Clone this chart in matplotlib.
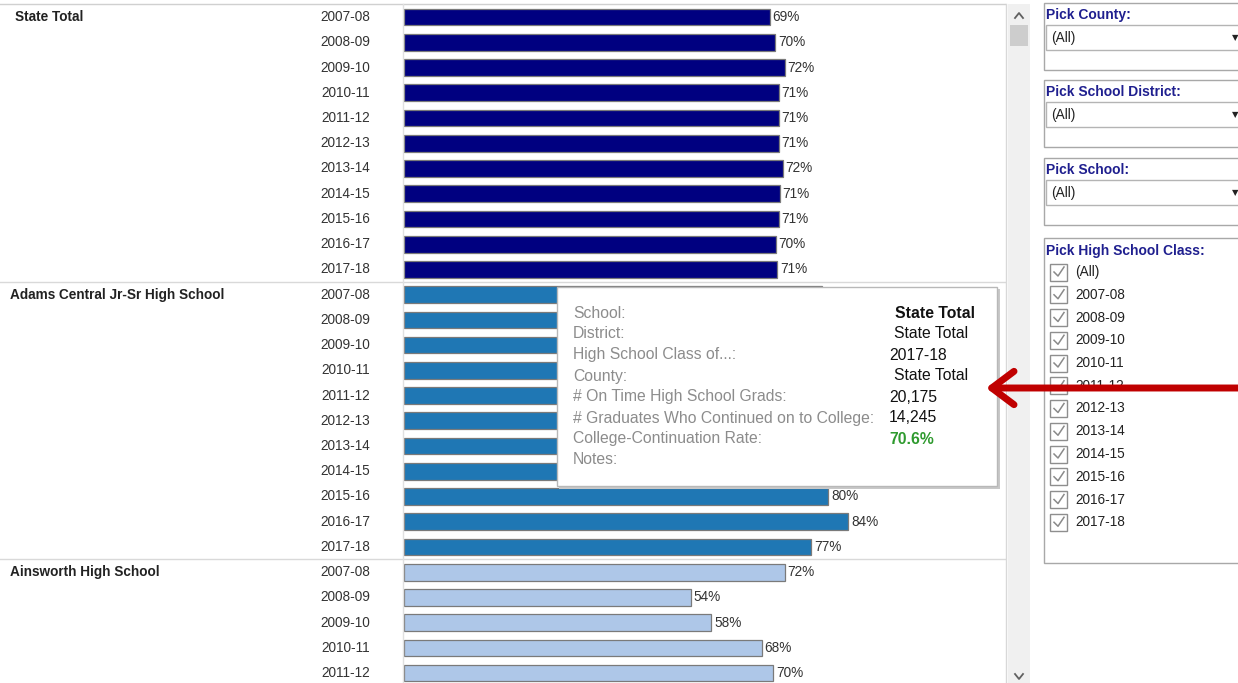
import matplotlib.pyplot as plt
import matplotlib.transforms as mtransforms
from matplotlib.patches import Rectangle


YEARS = ["2007-08", "2008-09", "2009-10", "2010-11", "2011-12", "2012-13",
         "2013-14", "2014-15", "2015-16", "2016-17", "2017-18"]

SCHOOLS = ["State Total", "Adams Central Jr-Sr High School", "Ainsworth High School"]

STATE_RATE = [69.2, 70.2, 72.0, 70.9, 70.9, 70.9, 71.6, 71.0, 70.9, 70.3, 70.6]
ADAMS_RATE = [79, 74, 81, 68, 76, 83, 72, 78, 80.2, 84.0, 77.0]
AINSWORTH_RATE = [72.0, 54.3, 58.1, 67.6, 69.8]

COLORS = ["#000080", "#1F77B4", "#AEC7E8"]

TIP_LABELS = ["School:", "District:", "High School Class of...:", "County:",
              "# On Time High School Grads:",
              "# Graduates Who Continued on to College:",
              "College-Continuation Rate:", "Notes:"]
TIP_VALUES = ["State Total", "State Total", "2017-18", "State Total",
              "20,175", "14,245", "70.6%", ""]

FILTERS = ["Pick County:", "Pick School District:", "Pick School:"]
CLASS_ITEMS = ["(All)"] + YEARS

W, H = 1238, 683
FONT = "Liberation Sans"
PX_PER_PCT = 5.29
ROW_PX = 25.23
TIP_BOX = (557, 287, 997, 486)  # left, top, right, bottom in pixels


def main():
    fig = plt.figure(figsize=(W / 100, H / 100), dpi=100)
    fig.patch.set_facecolor("white")

    # ui overlay in pixel coordinates
    ui = fig.add_axes([0, 0, 1, 1], zorder=10)
    ui.set_xlim(0, W)
    ui.set_ylim(H, 0)
    ui.axis("off")
    ui.patch.set_alpha(0)

    # bar pane
    left, right, top = 404, 1005, 4
    ax = fig.add_axes([left / W, 0, (right - left) / W, (H - top) / H], zorder=1)
    ax.set_xlim(0, (right - left) / PX_PER_PCT)
    n_rows = (H - top) / ROW_PX
    ax.set_ylim(n_rows, 0)
    ax.axis("off")

    mix = mtransforms.blended_transform_factory(ui.transData, ax.transData)
    to_ui = ax.transData + ui.transData.inverted()

    groups = [STATE_RATE, ADAMS_RATE, AINSWORTH_RATE]
    offset = 0
    for g, (name, rates) in enumerate(zip(SCHOOLS, groups)):
        ys = [offset + i + 0.52 for i in range(len(rates))]
        ax.barh(ys, rates, height=0.66, color=COLORS[g],
                edgecolor="#7A7A7A", linewidth=0.9)
        for y, v, yr in zip(ys, rates, YEARS):
            ui.text(370, y, yr, transform=mix, va="center", ha="right",
                    fontsize=9.8, color="#333333", family=FONT)
            # labels that sit under the tooltip are not visible
            lx, ly = to_ui.transform((v + 0.5, y))
            if TIP_BOX[0] < lx < TIP_BOX[2] and TIP_BOX[1] < ly < TIP_BOX[3]:
                continue
            ax.text(v + 0.5, y, f"{v:.0f}%", va="center", ha="left",
                    fontsize=9.8, color="#333333", family=FONT)
        ui.text(15 if g == 0 else 10, ys[0], name, transform=mix,
                va="center", ha="left", fontsize=9.8, fontweight="bold",
                color="#222222", family=FONT)
        if g > 0:
            ui.plot([0, right], [offset, offset], transform=mix,
                    color="#D9D9D9", lw=1)
        offset += len(YEARS)

    # pane borders
    ui.plot([0, right], [top, top], color="#D0D0D0", lw=1)
    ui.plot([403, 403], [top, H], color="#E0E0E0", lw=1)
    ui.plot([1006, 1006], [top, H], color="#D8D8D8", lw=1)

    # scrollbar
    ui.add_patch(Rectangle((1008, top), 22, H - top, facecolor="#F0F0F0",
                           edgecolor="none"))
    ui.add_patch(Rectangle((1010, 25), 18, 21, facecolor="#CDCDCD",
                           edgecolor="none"))
    ui.plot([1015, 1019, 1023], [18, 13, 18], color="#606060", lw=1.3)
    ui.plot([1015, 1019, 1023], [674, 679, 674], color="#606060", lw=1.3)

    # filter boxes
    box_tops = [3, 80, 158]
    for title, bt in zip(FILTERS, box_tops):
        ui.add_patch(Rectangle((1044, bt), 200, 67, facecolor="white",
                               edgecolor="#A8A8A8", lw=1))
        ui.text(1046, bt + 12, title, va="center", ha="left", fontsize=10,
                fontweight="bold", color="#1F1F8F", family=FONT)
        ui.add_patch(Rectangle((1046, bt + 22), 200, 25, facecolor="white",
                               edgecolor="#B4B4B4", lw=1))
        ui.text(1051, bt + 35, "(All)", va="center", ha="left", fontsize=9.8,
                color="#222222", family=FONT)
        ui.text(1235, bt + 35, "\u25BC", va="center", ha="center",
                fontsize=6, color="#222222", family="DejaVu Sans")

    # class checklist
    ui.add_patch(Rectangle((1044, 238), 200, 325, facecolor="white",
                           edgecolor="#A8A8A8", lw=1))
    ui.text(1046, 251, "Pick High School Class:", va="center", ha="left",
            fontsize=10, fontweight="bold", color="#1F1F8F", family=FONT)
    for i, item in enumerate(CLASS_ITEMS):
        cy = 272 + i * 22.75
        ui.add_patch(Rectangle((1050, cy - 8.5), 17, 17, facecolor="white",
                               edgecolor="#8E8E8E", lw=1))
        ui.plot([1054, 1058, 1064], [cy, cy + 4, cy - 5], color="#8A8A8A",
                lw=1.1)
        ui.text(1075, cy, item, va="center", ha="left", fontsize=9.8,
                color="#222222", family=FONT)

    # tooltip
    tl, tt, tr, tb = TIP_BOX
    ui.add_patch(Rectangle((tl + 2, tt + 2), tr - tl + 1, tb - tt + 1,
                           facecolor="#C8C8C8", edgecolor="none"))
    ui.add_patch(Rectangle((tl, tt), tr - tl, tb - tt, facecolor="white",
                           edgecolor="#B8B8B8", lw=1))
    value_x = [895, 894, 889, 894, 889, 889, 889, 889]
    for i, (lab, val) in enumerate(zip(TIP_LABELS, TIP_VALUES)):
        ty = 313 + i * 21
        ui.text(573, ty, lab, va="center", ha="left", fontsize=11.3,
                color="#8C8C8C", family=FONT)
        if not val:
            continue
        color, weight = "#111111", "normal"
        if i == 0:
            weight = "bold"
        if lab.startswith("College"):
            color, weight = "#2E9A2E", "bold"
        ui.text(value_x[i], ty, val, va="center", ha="left", fontsize=11.3,
                color=color, fontweight=weight, family=FONT)

    # red pointer arrow
    ui.annotate("", xy=(986, 388), xytext=(1245, 388),
                arrowprops=dict(arrowstyle="->,head_length=1.6,head_width=1.2",
                                color="#C00000", lw=5, shrinkA=0, shrinkB=0))

    fig.savefig("out.png", dpi=100)
    plt.close(fig)


if __name__ == "__main__":
    main()
